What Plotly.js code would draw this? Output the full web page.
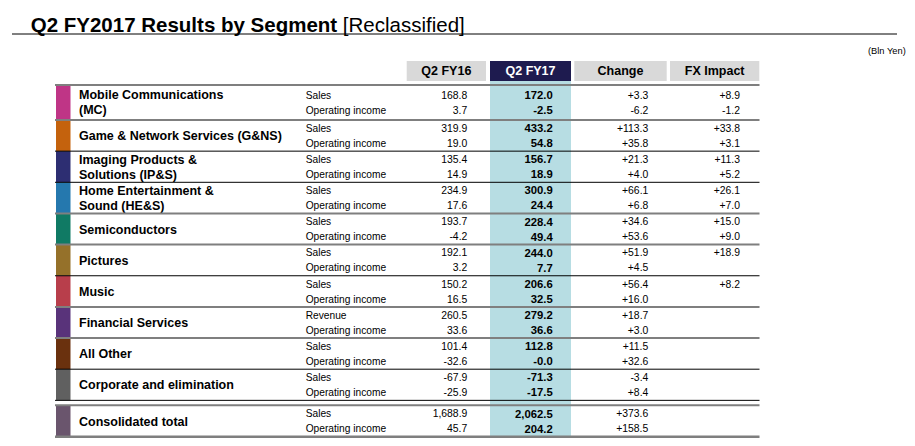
<!DOCTYPE html>
<html><head><meta charset="utf-8">
<script src="https://cdn.plot.ly/plotly-3.0.1.min.js"></script>
<style>html,body{margin:0;padding:0;background:#fff;}#chart{width:915px;height:446px;}</style>
</head><body><div id="chart"></div>
<script>
// ---------- DATA ----------
const segments = [
  'Mobile Communications<br>(MC)',
  'Game & Network Services (G&NS)',
  'Imaging Products &<br>Solutions (IP&S)',
  'Home Entertainment &<br>Sound (HE&S)',
  'Semiconductors',
  'Pictures',
  'Music',
  'Financial Services',
  'All Other',
  'Corporate and elimination',
  'Consolidated total'
];
const salesLabels = ['Sales','Sales','Sales','Sales','Sales','Sales','Sales','Revenue','Sales','Sales','Sales'];
const oiLabels = ['Operating income','Operating income','Operating income','Operating income','Operating income','Operating income','Operating income','Operating income','Operating income','Operating income','Operating income'];
const columnHeaders = ['Q2 FY16','Q2 FY17','Change','FX Impact'];

const fy16Sales = [168.8, 319.9, 135.4, 234.9, 193.7, 192.1, 150.2, 260.5, 101.4, -67.9, 1688.9];
const fy16OI    = [3.7, 19.0, 14.9, 17.6, -4.2, 3.2, 16.5, 33.6, -32.6, -25.9, 45.7];
const fy17Sales = [172.0, 433.2, 156.7, 300.9, 228.4, 244.0, 206.6, 279.2, 112.8, -71.3, 2062.5];
const fy17OI    = [-2.5, 54.8, 18.9, 24.4, 49.4, 7.7, 32.5, 36.6, -0.0, -17.5, 204.2];
const changeSales = [3.3, 113.3, 21.3, 66.1, 34.6, 51.9, 56.4, 18.7, 11.5, -3.4, 373.6];
const changeOI    = [-6.2, 35.8, 4.0, 6.8, 53.6, 4.5, 16.0, 3.0, 32.6, 8.4, 158.5];
const fxSales = [8.9, 33.8, 11.3, 26.1, 15.0, 18.9, 8.2, null, null, null, null];
const fxOI    = [-1.2, 3.1, 5.2, 7.0, 9.0, null, null, null, null, null, null];

const segmentColors = ['#bf3586','#c4620d','#2d2e72','#2578ae','#107a64','#95712a','#b83e4b','#59337a','#6a310e','#606060','#6a556d'];

// ---------- LAYOUT CONSTANTS ----------
const FONT = 'Arial, "Liberation Sans", sans-serif';
const W = 915, H = 446;
const STRIP_L = 56, STRIP_R = 70.5, NAME_X = 79, SUB_X = 305.7, LINE_L = 55, LINE_R = 759.5;
const colRight = [467.3, 552.7, 648.3, 740];
const colBox = [[406.7, 486], [490, 571], [574.3, 666.7], [670, 759.3]];
const HEAD_T = 61, HEAD_B = 81;
const TABLE_B = 437;
const FIRST_T = 85, SECOND_T = 120, STEP = 31.15, TOTAL_GAP = 5, TOTAL_H = 31.3;
const TEXT_DY = 1.5;

const n = segments.length;
function rowTop(i) {
  if (i === 0) return FIRST_T;
  return SECOND_T + (i - 1) * STEP + (i === n - 1 ? TOTAL_GAP : 0);
}
function rowBottom(i) {
  if (i === n - 1) return rowTop(i) + TOTAL_H;
  if (i === n - 2) return SECOND_T + (i) * STEP;
  return rowTop(i + 1);
}
const mids = segments.map((_, i) => (rowTop(i) + rowBottom(i)) / 2 + TEXT_DY);
const salesY = mids.map(m => m - 7.8);
const oiY = mids.map(m => m + 7.2);

function fmt(v, signed) {
  if (v === null || v === undefined) return '';
  const s = Math.abs(v).toLocaleString('en-US', {minimumFractionDigits: 1, maximumFractionDigits: 1});
  if (v < 0 || Object.is(v, -0)) return '-' + s;
  return signed ? '+' + s : s;
}

const traces = [];

// segment names
const nameX = [], nameY = [], nameT = [];
segments.forEach((s, i) => {
  const parts = s.split('<br>');
  if (parts.length === 2) {
    nameX.push(NAME_X, NAME_X); nameY.push(salesY[i], oiY[i]); nameT.push(parts[0], parts[1]);
  } else {
    nameX.push(NAME_X); nameY.push(mids[i]); nameT.push(s);
  }
});
traces.push({type: 'scatter', mode: 'text', x: nameX, y: nameY, text: nameT,
  textposition: 'middle right', textfont: {family: FONT, size: 12.5, color: '#000', weight: 'bold'}, hoverinfo: 'skip'});

// sub labels
traces.push({type: 'scatter', mode: 'text',
  x: segments.map(() => SUB_X).concat(segments.map(() => SUB_X)),
  y: salesY.concat(oiY), text: salesLabels.concat(oiLabels),
  textposition: 'middle right', textfont: {family: FONT, size: 10.2, color: '#000'}, hoverinfo: 'skip'});

// value columns
const colData = [[fy16Sales, fy16OI, false, false], [fy17Sales, fy17OI, false, true], [changeSales, changeOI, true, false], [fxSales, fxOI, true, false]];
colData.forEach((cd, c) => {
  const [sa, oi, signed, bold] = cd;
  traces.push({type: 'scatter', mode: 'text',
    x: sa.map(() => colRight[c]).concat(oi.map(() => colRight[c])),
    y: salesY.concat(oiY),
    text: sa.map(v => fmt(v, signed)).concat(oi.map(v => fmt(v, signed))),
    textposition: 'middle left',
    textfont: {family: FONT, size: bold ? 11.3 : 10.4, color: '#000', weight: bold ? 'bold' : 'normal'},
    hoverinfo: 'skip'});
});

// headers
traces.push({type: 'scatter', mode: 'text',
  x: colBox.map(b => (b[0] + b[1]) / 2), y: columnHeaders.map(() => (HEAD_T + HEAD_B) / 2 + 0.8),
  text: columnHeaders, textposition: 'middle center',
  textfont: {family: FONT, size: 12.5, color: ['#000', '#fff', '#000', '#000'], weight: 'bold'}, hoverinfo: 'skip'});

// ---------- SHAPES ----------
const shapes = [];
// title underline
shapes.push({type: 'line', xref: 'x', yref: 'y', x0: 12, x1: 897, y0: 34, y1: 34, line: {color: '#000', width: 1}});
// Q2 FY17 column background
shapes.push({type: 'rect', xref: 'x', yref: 'y', x0: colBox[1][0], x1: colBox[1][1], y0: HEAD_B, y1: TABLE_B, fillcolor: '#b7dde3', line: {width: 0}, layer: 'below'});
// header boxes
colBox.forEach((b, c) => shapes.push({type: 'rect', xref: 'x', yref: 'y', x0: b[0], x1: b[1], y0: HEAD_T, y1: HEAD_B,
  fillcolor: c === 1 ? '#1e1b4f' : '#d9d9d9', line: {width: 0}, layer: 'below'}));
// color strips
segments.forEach((_, i) => shapes.push({type: 'rect', xref: 'x', yref: 'y', x0: STRIP_L, x1: STRIP_R, y0: rowTop(i), y1: rowBottom(i),
  fillcolor: segmentColors[i], line: {width: 0}, layer: 'below'}));
// row lines
const GRAY = {color: '#7f7f7f', width: 2}, BLACK = {color: '#000', width: 1};
const lineStyles = [GRAY, GRAY, BLACK, BLACK, GRAY, GRAY, BLACK, GRAY, GRAY, BLACK];
lineStyles.forEach((st, i) => shapes.push({type: 'line', xref: 'x', yref: 'y', x0: LINE_L, x1: LINE_R, y0: rowTop(i), y1: rowTop(i), line: st}));
shapes.push({type: 'line', xref: 'x', yref: 'y', x0: LINE_L, x1: LINE_R, y0: rowBottom(n - 2), y1: rowBottom(n - 2), line: BLACK});
shapes.push({type: 'line', xref: 'x', yref: 'y', x0: LINE_L, x1: LINE_R, y0: rowTop(n - 1), y1: rowTop(n - 1), line: GRAY});
shapes.push({type: 'line', xref: 'x', yref: 'y', x0: LINE_L, x1: LINE_R, y0: rowBottom(n - 1), y1: rowBottom(n - 1), line: {color: '#7f7f7f', width: 2.5}});

const layout = {
  width: W, height: H,
  margin: {l: 0, r: 0, t: 0, b: 0, pad: 0},
  paper_bgcolor: '#fff', plot_bgcolor: '#fff',
  showlegend: false, hovermode: false,
  xaxis: {range: [0, W], visible: false, fixedrange: true},
  yaxis: {range: [H, 0], visible: false, fixedrange: true},
  title: {text: '<b>Q2 FY2017 Results by Segment</b> [Reclassified]', x: 30.7 / W, xanchor: 'left', xref: 'paper',
    y: 1 - 24.4 / H, yanchor: 'middle', yref: 'container', font: {family: FONT, size: 20.5, color: '#000'}},
  annotations: [{text: '(Bln Yen)', xref: 'x', yref: 'y', x: 908, y: 50.5, xanchor: 'right', yanchor: 'middle', showarrow: false,
    font: {family: FONT, size: 9.3, color: '#000'}}],
  shapes: shapes
};

Plotly.newPlot('chart', traces, layout, {staticPlot: true, displayModeBar: false});
</script>
</body></html>
